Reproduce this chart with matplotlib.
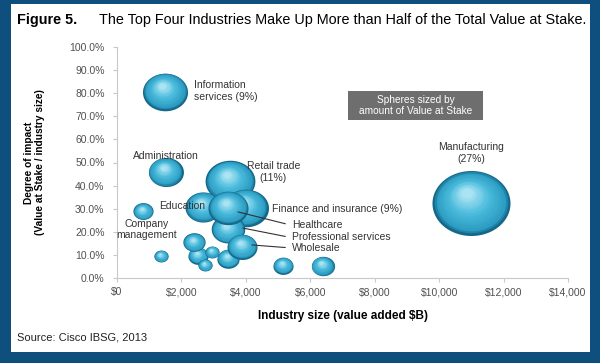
import numpy as np
import matplotlib.pyplot as plt
from matplotlib.patches import Rectangle
from matplotlib.path import Path
from matplotlib.transforms import offset_copy
from matplotlib.ticker import FuncFormatter

plt.rcParams['font.family'] = ['Liberation Sans', 'DejaVu Sans']

# Bubble data (draw order = back to front)
industries = ["Manufacturing", "Information services", "Administration", "Company management",
              "Other 1", "Other 2", "Other 3", "Other 4", "Other 5", "Other 6", "Other 7", "Other 8",
              "Retail trade", "Finance and insurance", "Education", "Professional services",
              "Wholesale", "Healthcare"]
industry_size = [11000, 1490, 1506, 808,
                 1367, 2516, 2391, 2951, 2733, 3448, 5156, 6383,
                 3510, 3990, 2671, 3448, 3883, 3448]
impact = [0.325, 0.807, 0.459, 0.288,
          0.095, 0.097, 0.154, 0.113, 0.056, 0.084, 0.054, 0.052,
          0.42, 0.305, 0.307, 0.21, 0.136, 0.305]
value_share = [27, 9, 5.4, 1.8,
               0.9, 1.8, 2.2, 0.9, 0.9, 2.2, 1.8, 2.4,
               11, 9, 5.8, 5.0, 4.0, 7.1]

x_ticks = [0, 2000, 4000, 6000, 8000, 10000, 12000, 14000]
y_ticks = [0.0, 0.1, 0.2, 0.3, 0.4, 0.5, 0.6, 0.7, 0.8, 0.9, 1.0]

fig = plt.figure(figsize=(6, 3.63), dpi=100, facecolor='#0e4f7e')
# white panel inside the blue frame
bg = fig.add_axes([11 / 600, 1 - 352 / 363, 579 / 600, 348 / 363], zorder=-5)
bg.set_facecolor('white')
bg.set_xticks([])
bg.set_yticks([])
for s in bg.spines.values():
    s.set_visible(False)

ax = fig.add_axes([117 / 600, 1 - 278 / 363, 451 / 600, 231 / 363])
ax.set_facecolor('none')
ax.set_xlim(0, 14000)
ax.set_ylim(0, 1.0)
ax.set_xticks(x_ticks)
ax.set_yticks(y_ticks)
ax.xaxis.set_major_formatter(FuncFormatter(lambda v, p: f"${v:,.0f}"))
ax.yaxis.set_major_formatter(FuncFormatter(lambda v, p: f"{v * 100:.1f}%"))
ax.tick_params(labelsize=7.5, colors='#c8c8c8', labelcolor='#505050', length=3, width=0.8)
ax.tick_params(axis='y', pad=6)
for s in ['top', 'right']:
    ax.spines[s].set_visible(False)
for s in ['left', 'bottom']:
    ax.spines[s].set_color('#c8c8c8')
    ax.spines[s].set_linewidth(0.8)

# ellipse-shaped marker (spheres look slightly stretched)
th = np.linspace(0, 2 * np.pi, 80)
ellipse = Path(np.column_stack([1.2 * np.cos(th), np.sin(th)]), closed=True)

stops_t = [0.0, 0.12, 0.55, 1.0]
stops_c = np.array([[20, 105, 138], [44, 156, 194], [75, 187, 220], [170, 228, 243]]) / 255.0
n_layers = 16
k = 117  # points^2 per % of value at stake

for i, (x, y, v) in enumerate(zip(industry_size, impact, value_share)):
    s = v * k
    r_pt = np.sqrt(s) / 2
    for j in range(n_layers):
        t = j / (n_layers - 1)
        col = [np.interp(t, stops_t, stops_c[:, c]) for c in range(3)]
        f = 1 - 0.85 * t
        tr = offset_copy(ax.transData, fig=fig, x=-0.12 * r_pt * t, y=0.3 * r_pt / 1.2 * t, units='points')
        ax.scatter([x], [y], s=s * f * f, marker=ellipse, color=col, linewidths=0,
                   transform=tr, zorder=2 + i, clip_on=False)

txt = dict(fontsize=7.5, color='#333333', zorder=50)
ax.text(2400, 0.81, "Information\nservices (9%)", ha='left', va='center', linespacing=1.2, **txt)
ax.text(1520, 0.53, "Administration", ha='center', va='center', **txt)
ax.text(4850, 0.46, "Retail trade\n(11%)", ha='center', va='center', linespacing=1.25, **txt)
ax.text(2020, 0.31, "Education", ha='center', va='center', **txt)
ax.text(930, 0.21, "Company\nmanagement", ha='center', va='center', linespacing=1.1, **txt)
ax.text(4810, 0.30, "Finance and insurance (9%)", ha='left', va='center', **txt)
ax.text(5440, 0.228, "Healthcare", ha='left', va='center', **txt)
ax.text(5440, 0.176, "Professional services", ha='left', va='center', **txt)
ax.text(5440, 0.128, "Wholesale", ha='left', va='center', **txt)
leader = dict(color='#333333', lw=0.8, zorder=49)
ax.plot([3760, 5220], [0.286, 0.235], **leader)
ax.plot([3914, 5220], [0.216, 0.180], **leader)
ax.plot([4193, 5220], [0.143, 0.132], **leader)
ax.text(11000, 0.54, "Manufacturing\n(27%)", ha='center', va='center', linespacing=1.2, **txt)

# gray note box
ax.add_patch(Rectangle((0.512, 0.684), 0.2995, 0.1255, transform=ax.transAxes,
                       facecolor='#6e6e6e', edgecolor='none', zorder=49))
ax.text(0.662, 0.7465, "Spheres sized by\namount of Value at Stake", transform=ax.transAxes,
        ha='center', va='center', fontsize=7.3, color='white', linespacing=1.15, zorder=50)

ax.set_xlabel("Industry size (value added $B)", fontsize=8.5, fontweight='bold', labelpad=9)
ax.set_ylabel("Degree of impact\n(Value at Stake / industry size)", fontsize=7.3,
              fontweight='bold', linespacing=1.15,
              family=['Liberation Sans Narrow', 'Liberation Sans'])
ax.yaxis.set_label_coords(-0.16, 0.5)

fig.text(17 / 600, 1 - 20 / 363, "Figure 5.", fontsize=10.4, fontweight='bold', va='center')
fig.text(99 / 600, 1 - 20 / 363, "The Top Four Industries Make Up More than Half of the Total Value at Stake.",
         fontsize=10.4, va='center')
fig.text(17 / 600, 1 - 338 / 363, "Source: Cisco IBSG, 2013", fontsize=8, va='center', color='#222222')

fig.savefig("out.png", dpi=100, facecolor=fig.get_facecolor())
